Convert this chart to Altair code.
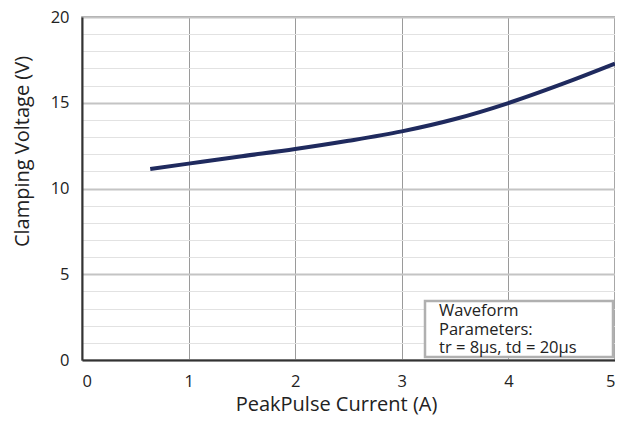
import altair as alt
import pandas as pd

current = [0.64, 1.0, 1.5, 2.0, 2.5, 3.0, 3.5, 4.0, 4.5, 5.0]
voltage = [11.14, 11.45, 11.88, 12.3, 12.78, 13.33, 14.05, 14.98, 16.08, 17.28]
legend_lines = ["Waveform", "Parameters:", "tr = 8μs, td = 20μs"]

df = pd.DataFrame({"I": current, "V": voltage})
FONT = "Open Sans"

x = alt.X("I:Q", scale=alt.Scale(domain=[0, 5], nice=False),
          axis=alt.Axis(title="PeakPulse Current (A)", values=[0, 1, 2, 3, 4, 5],
                        grid=True, gridColor="#9a9a9a", gridWidth=1,
                        domainColor="#333", domainWidth=2, ticks=False,
                        labelPadding=13, titlePadding=5, titleX=254))
y = alt.Y("V:Q", scale=alt.Scale(domain=[0, 20], nice=False),
          axis=alt.Axis(title="Clamping Voltage (V)", values=list(range(0, 21)),
                        labelExpr="datum.value % 5 === 0 ? datum.label : ''",
                        grid=True,
                        gridColor=alt.condition("datum.value % 5 === 0", alt.value("#c4c4c4"), alt.value("#e2e2e2")),
                        gridWidth=alt.condition("datum.value % 5 === 0", alt.value(2), alt.value(1)),
                        domainColor="#333", domainWidth=2, ticks=False,
                        labelPadding=13, titlePadding=18, titleY=134))

line = alt.Chart(df).mark_line(color="#1f2a5e", strokeWidth=4, interpolate="monotone").encode(x=x, y=y)

box = alt.Chart(pd.DataFrame({"a": [0]})).mark_rect(
    fill="white", stroke="#b0b0b0", strokeWidth=2.5
).encode(x=alt.value(343), x2=alt.value(531), y=alt.value(284), y2=alt.value(340))

tdf = pd.DataFrame({"t": legend_lines, "row": [0, 1, 2]})
texts = alt.Chart(tdf).mark_text(align="left", baseline="middle", fontSize=16.5, font=FONT, color="#222").encode(
    x=alt.value(357),
    y=alt.Y("row:Q", axis=None, scale=alt.Scale(domain=[0, 2], range=[294, 331])),
    text="t:N",
)

chart = alt.layer(line, box, texts).resolve_scale(y="independent").properties(
    width=533, height=343,
    autosize=alt.AutoSizeParams(type="none"),
    padding={"left": 74, "top": 9, "right": 0, "bottom": 55},
).configure_view(stroke="#8a8a8a", strokeWidth=1.5).configure_axis(
    labelFontSize=16.5, titleFontSize=20, labelFont=FONT, titleFont=FONT,
    labelColor="#222", titleColor="#222", titleFontWeight="normal"
)

chart.save("out.html", embed_options={"renderer": "svg", "actions": False})
